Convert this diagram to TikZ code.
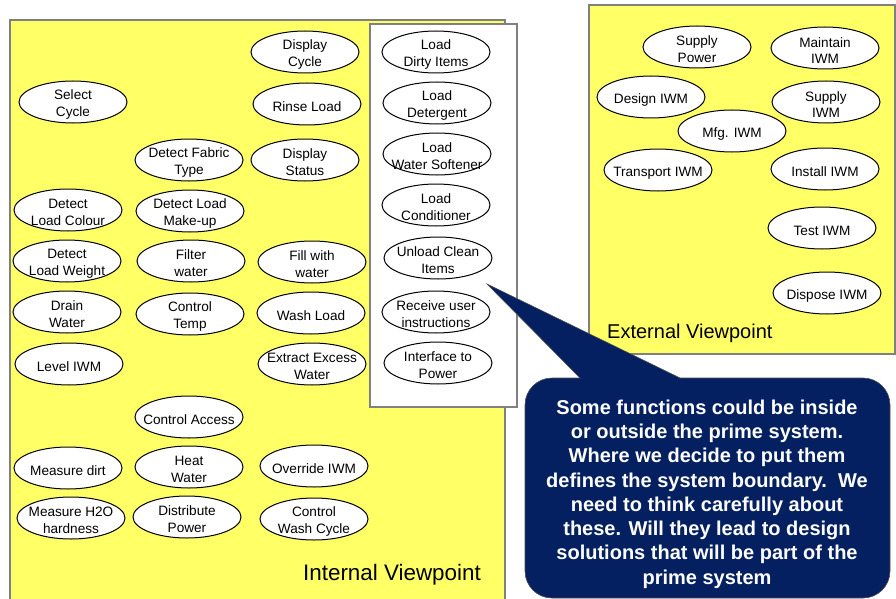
\documentclass[tikz,border=0pt]{standalone}
\usepackage{fontspec}
\setmainfont{Liberation Sans}
\newfontfamily\lsans{Liberation Sans}
\usetikzlibrary{shapes.geometric}
\definecolor{ylw}{RGB}{255,255,102}
\definecolor{navy}{RGB}{4,32,96}
\definecolor{bordergray}{RGB}{128,128,128}
\newcommand\up{\rule{0pt}{15pt}}
\tikzset{
  fn/.style={ellipse, draw=black, line width=1pt, fill=white,
    inner xsep=-60pt, inner ysep=-30pt,
    minimum width=108pt, minimum height=42pt, align=center,
    font=\lsans\fontsize{13.6}{16.9}\selectfont},
  panel/.style={draw=bordergray, line width=1.2pt},
  callout/.style={fill=navy, draw=black!70, line width=0.6pt},
}
\begin{document}
\begin{tikzpicture}[x=1pt,y=-1pt]
\useasboundingbox (0,0) rectangle (896,599);
% panels
\draw[panel, fill=ylw] (10,20) rectangle (505,610);
\draw[panel, fill=white] (370,24) rectangle (517,407);
\draw[panel, fill=ylw] (589,5) rectangle (895,354);

% internal viewpoint functions
\node[fn] (dispcyc) at (305,52) {\up Display\\Cycle};
\node[fn] (selcyc) at (73,102) {\up Select\\Cycle};
\node[fn] (rinse) at (307,104) {\up Rinse Load};
\node[fn] (fabric) at (189,160) {\up Detect Fabric\\Type};
\node[fn] (dispstat) at (305,160) {\up Display\\Status};
\node[fn] (colour) at (68,210) {\up Detect\\Load Colour};
\node[fn] (makeup) at (190,211) {\up Detect Load\\Make-up};
\node[fn] (weight) at (67,261) {\up Detect\\Load Weight};
\node[fn] (filter) at (191,261) {\up Filter\\water};
\node[fn] (fill) at (312,262) {\up Fill with\\water};
\node[fn] (drain) at (67,312) {\up Drain\\Water};
\node[fn] (temp) at (190,314) {\up Control\\Temp};
\node[fn] (wash) at (311,313) {\up Wash Load};
\node[fn] (level) at (69,364) {\up Level IWM};
\node[fn] (extract) at (312,364) {\up Extract Excess\\Water};
\node[fn] (access) at (189,417) {\up Control Access};
\node[fn] (dirt) at (68,468) {\up Measure dirt};
\node[fn] (heat) at (189,467) {\up Heat\\Water};
\node[fn] (override) at (314,466) {\up Override IWM};
\node[fn] (hardness) at (71,518) {\up Measure H2O\\hardness};
\node[fn] (distrib) at (187,517) {\up Distribute\\Power};
\node[fn] (washcyc) at (314,519) {\up Control\\Wash Cycle};
\node[font=\lsans\fontsize{22.4}{26}\selectfont] (intlabel) at (392,575) {Internal Viewpoint};

% boundary functions
\node[fn] (dirty) at (436,52) {\up Load\\Dirty Items};
\node[fn] (deterg) at (437,103) {\up Load\\Detergent};
\node[fn] (soft) at (437,154) {\up Load\\Water Softener};
\node[fn] (cond) at (436,205) {\up Load\\Conditioner};
\node[fn] (unload) at (438,258) {\up Unload Clean\\Items};
\node[fn] (receive) at (436,312) {\up Receive user\\instructions};
\node[fn] (iface) at (438,363) {\up Interface to\\Power};

% external viewpoint functions
\node[fn] (suppow) at (697,47) {\up Supply\\Power};
\node[fn] (maint) at (825,48) {\up Maintain\\IWM};
\node[fn] (design) at (651,97) {\up Design IWM};
\node[fn] (supiwm) at (826,102) {\up Supply\\IWM};
\node[fn] (mfg) at (732,131) {\up Mfg. IWM};
\node[fn] (transp) at (658,170) {\up Transport IWM};
\node[fn] (install) at (825,169) {\up Install IWM};
\node[fn] (test) at (822,228) {\up Test IWM};
\node[fn] (dispose) at (827,293) {\up Dispose IWM};
\node[font=\lsans\fontsize{20}{24}\selectfont, anchor=west, inner sep=0pt] (extlabel) at (607,333) {External Viewpoint};

% callout
\coordinate (tip) at (487,284);
\draw[callout, rounded corners=27pt] (525,378) rectangle (890,598);
\draw[callout] (580,378) -- (tip) -- (680,378);
\fill[navy] (582,376.5) -- (678,376.5) -- (678,381) -- (582,381) -- cycle;
\node[text=white, align=center, font=\lsans\bfseries\fontsize{20}{24.3}\selectfont] (note) at (707,494)
  {Some functions could be inside\\or outside the prime system.\\Where we decide to put them\\defines the system boundary.\ \ We\\need to think carefully about\\these. Will they lead to design\\solutions that will be part of the\\prime system};
\end{tikzpicture}
\end{document}
